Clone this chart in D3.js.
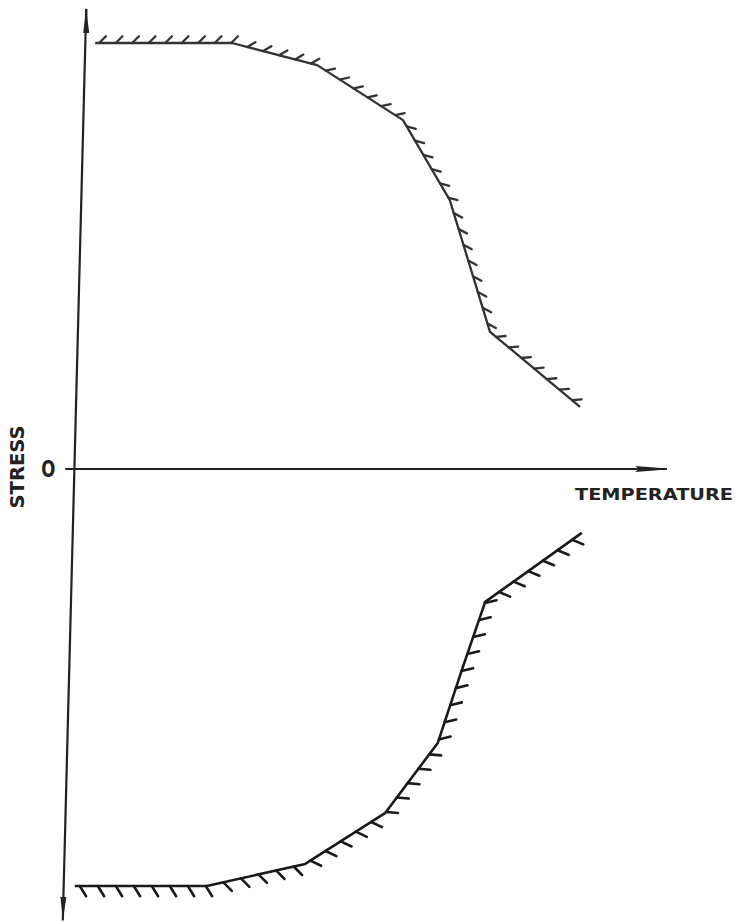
<!DOCTYPE html>
<html>
<head>
<meta charset="utf-8">
<script src="https://cdn.jsdelivr.net/npm/d3@7"></script>
<style>
  html, body { margin: 0; padding: 0; background: #fff; }
  svg { display: block; }
</style>
</head>
<body>
<div id="chart"></div>
<script>
// curve data (temperature, stress) in arbitrary units
const upperT = [3.2, 26, 40.2, 54.5, 62.3, 69, 84];
const upperS = [100, 100, 94.8, 81.9, 63.1, 32.2, 14.6];
const lowerT = [-0.2, 21.8, 38.2, 51.5, 60.3, 64.3, 68.2, 84.3];
const lowerS = [-97.9, -97.9, -92.7, -80.8, -64.3, -47.2, -31.2, -15.0];

// axis ends (the stress axis is drawn slightly leaning)
const stressAxisT = [1.7, -2.2];
const stressAxisS = [108, -106];
const tempAxisT = [-1.8, 98.5];
const zeroLabel = "O";
const xLabel = "TEMPERATURE";
const yLabel = "STRESS";

const width = 735, height = 922;

const svg = d3.select("#chart")
    .append("svg")
    .attr("width", width)
    .attr("height", height);

svg.append("rect").attr("width", width).attr("height", height).attr("fill", "#fff");

const xScale = d3.scaleLinear().domain([0, 100]).range([76, 676]);
const yScale = d3.scaleLinear().domain([-100, 100]).range([895, 43]);

const ink = "#222";

// arrow markers
const defs = svg.append("defs");
defs.append("marker")
    .attr("id", "arrow")
    .attr("viewBox", "0 0 32 8")
    .attr("refX", 32).attr("refY", 4)
    .attr("markerWidth", 32).attr("markerHeight", 8)
    .attr("markerUnits", "userSpaceOnUse")
    .attr("orient", "auto")
    .append("path")
    .attr("d", "M0,1 L4,4 L0,7 L32,4.4 L32,3.6 Z")
    .attr("fill", ink);
defs.append("marker")
    .attr("id", "arrowV")
    .attr("viewBox", "0 0 24 7")
    .attr("refX", 24).attr("refY", 3.5)
    .attr("markerWidth", 24).attr("markerHeight", 7)
    .attr("markerUnits", "userSpaceOnUse")
    .attr("orient", "auto")
    .append("path")
    .attr("d", "M0,0.5 L24,3.5 L0,6.5 Z")
    .attr("fill", ink);

// stress axis, arrows both ways
svg.append("line")
    .attr("x1", xScale(stressAxisT[0])).attr("y1", yScale(stressAxisS[0]) + 20)
    .attr("x2", xScale(stressAxisT[0])).attr("y2", yScale(stressAxisS[0]))
    .attr("stroke", ink).attr("stroke-width", 2.2)
    .attr("marker-end", "url(#arrowV)");
svg.append("line")
    .attr("x1", xScale(stressAxisT[0])).attr("y1", yScale(stressAxisS[0]))
    .attr("x2", xScale(stressAxisT[1])).attr("y2", yScale(stressAxisS[1]))
    .attr("stroke", ink).attr("stroke-width", 2.2)
    .attr("marker-end", "url(#arrowV)");

// temperature axis
svg.append("line")
    .attr("x1", xScale(tempAxisT[0])).attr("y1", yScale(0))
    .attr("x2", xScale(tempAxisT[1])).attr("y2", yScale(0))
    .attr("stroke", ink).attr("stroke-width", 2.2)
    .attr("marker-end", "url(#arrow)");

// labels
svg.append("text")
    .attr("transform", `translate(${xScale(-4.6)},${yScale(0) + 8}) scale(0.72,1)`)
    .attr("text-anchor", "middle")
    .attr("font-family", "DejaVu Sans, sans-serif")
    .attr("font-weight", "bold")
    .attr("font-size", 23)
    .attr("fill", ink)
    .text(zeroLabel);

svg.append("text")
    .attr("x", 575).attr("y", 500)
    .attr("font-family", "DejaVu Sans, sans-serif")
    .attr("font-weight", "bold")
    .attr("font-size", 16)
    .attr("textLength", 158)
    .attr("lengthAdjust", "spacingAndGlyphs")
    .attr("fill", ink)
    .text(xLabel);

svg.append("text")
    .attr("transform", "translate(24,467) rotate(-90)")
    .attr("text-anchor", "middle")
    .attr("font-family", "DejaVu Sans, sans-serif")
    .attr("font-weight", "bold")
    .attr("font-size", 19)
    .attr("textLength", 83)
    .attr("lengthAdjust", "spacingAndGlyphs")
    .attr("fill", ink)
    .text(yLabel);

// hatched limit curves
function drawHatched(ts, ss, angleOffset, hatchLen, spacing, start, color, sw) {
    const pts = ts.map((t, i) => [xScale(t), yScale(ss[i])]);
    svg.append("path")
        .datum(pts)
        .attr("d", d3.line().curve(d3.curveLinear))
        .attr("fill", "none")
        .attr("stroke", color)
        .attr("stroke-width", sw)
        .attr("stroke-linejoin", "round");

    const hatches = [];
    let carry = start;
    for (let i = 0; i < pts.length - 1; i++) {
        const [x1, y1] = pts[i], [x2, y2] = pts[i + 1];
        const segLen = Math.hypot(x2 - x1, y2 - y1);
        const theta = Math.atan2(y2 - y1, x2 - x1);
        const a = theta + angleOffset * Math.PI / 180;
        let d = carry;
        while (d <= segLen) {
            const px = x1 + (x2 - x1) * d / segLen;
            const py = y1 + (y2 - y1) * d / segLen;
            hatches.push([px, py, px + hatchLen * Math.cos(a), py + hatchLen * Math.sin(a)]);
            d += spacing;
        }
        carry = d - segLen;
    }
    svg.append("g").selectAll("line")
        .data(hatches)
        .join("line")
        .attr("x1", d => d[0]).attr("y1", d => d[1])
        .attr("x2", d => d[2]).attr("y2", d => d[3])
        .attr("stroke", color)
        .attr("stroke-width", sw)
        .attr("stroke-linecap", "round");
}

drawHatched(upperT, upperS, -45, 9.5, 16.5, 4, "#333", 2.3);
drawHatched(lowerT, lowerS, 58, 12, 18, 5, "#1a1a1a", 2.6);
</script>
</body>
</html>
